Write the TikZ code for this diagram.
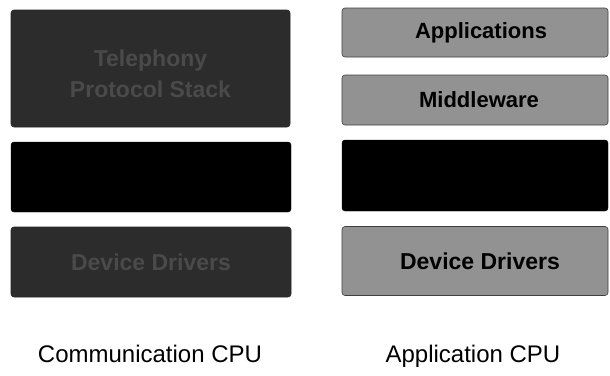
\documentclass[tikz,border=0pt]{standalone}
\usepackage{fontspec}
\setmainfont{Liberation Sans}
\definecolor{darkfill}{HTML}{2C2C2C}
\definecolor{darktext}{HTML}{4A4A4A}
\definecolor{midfill}{HTML}{929292}
\begin{document}
\begin{tikzpicture}[x=1pt,y=-1pt,
  layer/.style={rectangle, rounded corners=3pt, inner sep=0pt, outer sep=0pt, align=center},
  darkbox/.style={layer, fill=darkfill, draw=black!85, line width=0.6pt, text=darktext, font=\fontsize{23}{31}\selectfont\bfseries},
  blackbox/.style={layer, fill=black, draw=black},
  greybox/.style={layer, fill=midfill, draw=black!75, line width=0.6pt, text=black, font=\fontsize{22}{26}\selectfont\bfseries},
  cpulabel/.style={font=\fontsize{24}{28}\selectfont, anchor=base, inner sep=0pt}]
\useasboundingbox (0,0) rectangle (610,375);
% Communication CPU stack
\node[darkbox, minimum width=279pt, minimum height=117pt] (tps) at (150.5,68.5) {\rule{0pt}{27pt}Telephony\\Protocol Stack};
\node[blackbox, minimum width=280pt, minimum height=70pt] (cmid) at (151,177) {};
\node[darkbox, minimum width=280pt, minimum height=70pt] (cdd) at (151,262) {Device Drivers};
% Application CPU stack
\node[greybox, minimum width=266pt, minimum height=49pt] (app) at (475,32.5) {\hspace*{12pt}Applications};
\node[greybox, minimum width=266pt, minimum height=50pt] (mw) at (475,100) {\hspace*{8pt}Middleware};
\node[blackbox, minimum width=266pt, minimum height=71pt] (amid) at (475,175.5) {};
\node[greybox, minimum width=266pt, minimum height=69pt, font=\fontsize{23}{26}\selectfont\bfseries] (add) at (475,261) {\hspace*{10pt}Device Drivers};
% labels
\node[cpulabel] (lc) at (150,362) {Communication CPU};
\node[cpulabel] (la) at (473,362) {Application CPU};
\end{tikzpicture}
\end{document}
